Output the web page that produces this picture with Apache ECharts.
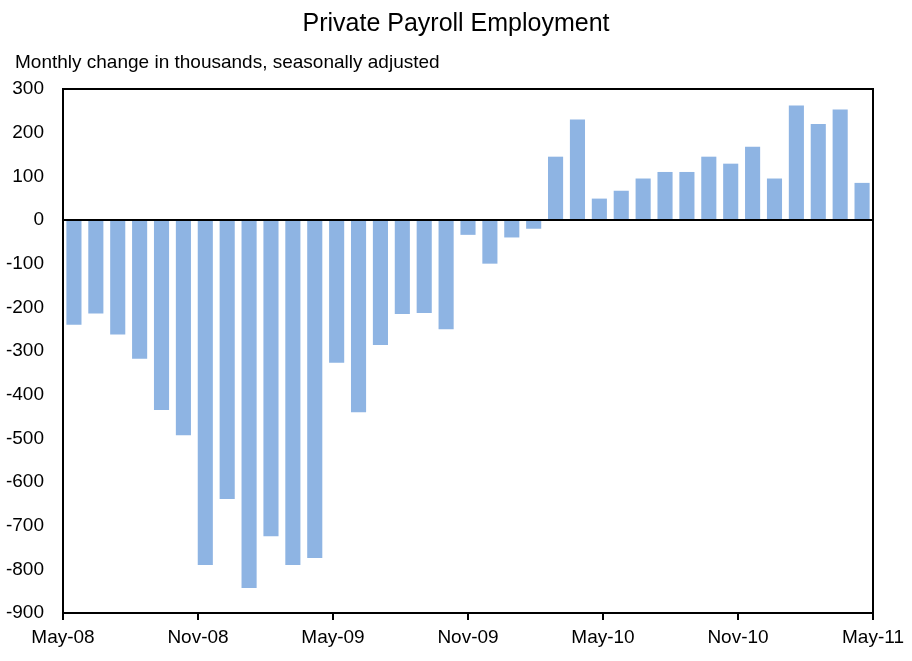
<!DOCTYPE html>
<html>
<head>
<meta charset="utf-8">
<script src="https://cdn.jsdelivr.net/npm/echarts@6/dist/echarts.min.js"></script>
<style>
html,body{margin:0;padding:0;background:#fff;}
#chart{width:912px;height:661px;}
</style>
</head>
<body>
<div id="chart"></div>
<script>
var months = ['May-08','Jun-08','Jul-08','Aug-08','Sep-08','Oct-08','Nov-08','Dec-08','Jan-09','Feb-09','Mar-09','Apr-09',
  'May-09','Jun-09','Jul-09','Aug-09','Sep-09','Oct-09','Nov-09','Dec-09','Jan-10','Feb-10','Mar-10','Apr-10',
  'May-10','Jun-10','Jul-10','Aug-10','Sep-10','Oct-10','Nov-10','Dec-10','Jan-11','Feb-11','Mar-11','Apr-11','May-11'];
var payrollChange = [-240,-214,-262,-318,-435,-493,-790,-639,-843,-724,-790,-774,
  -327,-440,-286,-215,-213,-250,-34,-100,-40,-20,145,230,
  49,67,95,110,110,145,129,168,95,262,220,253,85];
var tickLabels = ['May-08','Nov-08','May-09','Nov-09','May-10','Nov-10','May-11'];
var yTicks = {min:-900, max:300, step:100};

var chart = echarts.init(document.getElementById('chart'));
var font = 'Liberation Sans, Arial, sans-serif';
chart.setOption({
  animation:false,
  backgroundColor:'#fff',
  title:[{
    text:'Private Payroll Employment', left:'center', top:7,
    textStyle:{fontFamily:font, fontSize:25, fontWeight:'normal', color:'#000'}
  },{
    text:'Monthly change in thousands, seasonally adjusted', left:10, top:48,
    textStyle:{fontFamily:font, fontSize:19, fontWeight:'normal', color:'#000'}
  }],
  grid:{left:63, right:39, top:89, bottom:48, show:true, borderColor:'#000', borderWidth:2, backgroundColor:'transparent'},
  xAxis:[{
    type:'category', data:months, show:false, boundaryGap:true
  },{
    type:'value', position:'bottom', min:0, max:(tickLabels.length-1)*6, interval:6,
    axisLine:{show:true, onZero:false, lineStyle:{color:'#000', width:2}},
    axisTick:{show:true, length:7, lineStyle:{color:'#000', width:2}},
    splitLine:{show:false},
    axisLabel:{fontFamily:font, fontSize:19, color:'#000', margin:15,
      formatter:function(v){ return tickLabels[Math.round(v/6)] || ''; }}
  }],
  yAxis:{
    type:'value', min:yTicks.min, max:yTicks.max, interval:yTicks.step,
    axisLine:{show:true, lineStyle:{color:'#000', width:2}},
    axisTick:{show:false},
    splitLine:{show:false},
    axisLabel:{fontFamily:font, fontSize:19, color:'#000', margin:19}
  },
  series:[{
    type:'bar', xAxisIndex:0, data:payrollChange, barWidth:'69%',
    itemStyle:{color:'#8EB4E3'},
    markLine:{silent:true, symbol:'none', label:{show:false},
      lineStyle:{color:'#000', width:2, type:'solid'}, data:[{yAxis:0}]}
  }]
});
</script>
</body>
</html>
